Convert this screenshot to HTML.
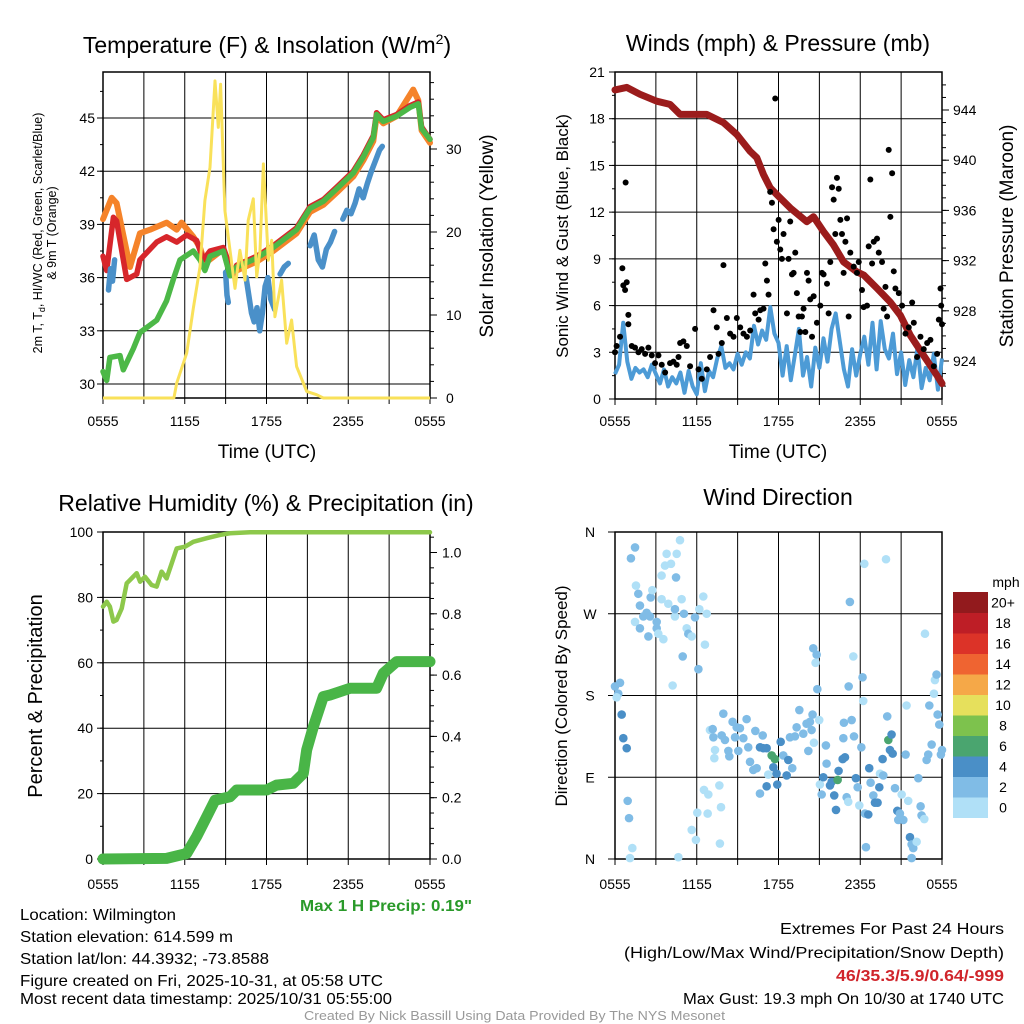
<!DOCTYPE html>
<html><head><meta charset="utf-8">
<style>
html,body{margin:0;padding:0;background:#fff;}
svg{display:block;font-family:"Liberation Sans Narrow","Liberation Sans",sans-serif;}
</style></head>
<body>
<svg id="chart" width="1024" height="1024" viewBox="0 0 1024 1024" xmlns="http://www.w3.org/2000/svg">
<rect width="1024" height="1024" fill="#fff"/>
<g id="layer"></g>
</svg>
<script>
// ---------- Panel 1 data (temperature / insolation) ----------
const greenT=[0,0.27,0.51,1.25,1.49,2.23,2.71,3.94,4.67,5.16,5.65,6.63,7.12,7.48,7.85,8.83,9.32,9.81,11.28,12.5,14.21,15.19,16.17,17.15,18.37,19.1,19.84,20.08,20.57,21.55,22.53,23.14,23.38,24];
const greenV=[30.7,30.2,31.5,31.6,30.8,32.0,32.9,33.6,34.7,35.9,37.0,37.5,37.0,36.4,37.2,37.5,36.1,36.6,37.1,37.7,38.7,39.9,40.3,41.0,41.9,42.8,43.9,45.2,44.8,45.1,45.6,45.8,44.4,43.8];
const redT=[0,0.27,0.76,1.0,1.74,2.47,2.71,3.94,4.67,5.41,6.14,6.87,7.36,7.85,8.83,9.56,9.81,11.28,12.5,14.21,15.19,16.17,17.15,18.37,19.1,19.84,20.08,20.57,21.55,22.53,23.14,23.38,24];
const redV=[37.2,36.4,39.4,39.2,35.9,36.2,37.0,38.0,38.3,38.0,38.4,38.1,37.0,37.5,37.7,36.1,36.7,37.2,37.8,38.8,40.0,40.4,41.1,42.0,42.9,44.0,45.3,44.9,45.2,45.7,45.9,44.5,43.8];
const orangeT=[0,0.64,1.0,1.98,2.71,3.45,4.67,5.41,5.77,6.63,7.12,7.48,8.83,9.32,9.81,11.28,12.5,14.21,15.19,16.17,17.15,18.37,19.1,19.84,20.08,20.57,21.55,22.77,23.14,23.38,24];
const orangeV=[39.3,40.5,40.2,36.6,38.5,38.7,39.1,38.7,39.1,38.3,37.7,36.8,37.6,36.2,36.4,36.9,37.5,38.5,39.7,40.1,40.8,41.7,42.6,43.7,45.1,44.7,45.1,46.6,46.0,44.3,43.6];
const blueT=[0.4,0.55,0.7,0.85,null,9.0,9.1,9.2,null,10.5,10.7,10.9,11.1,11.3,11.5,11.7,11.9,12.1,12.3,12.6,null,13.0,13.3,13.6,null,15.2,15.5,15.8,16.1,16.4,16.7,17.0,null,17.6,17.9,18.2,18.5,18.8,19.1,19.4,19.7,20.0,20.3,20.5];
const blueV=[35.3,36.5,35.8,37.0,null,36.3,35.0,34.6,null,36.0,35.0,34.0,33.5,34.3,33.0,34.0,35.5,36.0,34.8,34.2,null,36.2,36.6,36.8,null,37.8,38.4,37.0,36.6,37.6,38.0,38.6,null,39.3,39.8,39.6,40.2,41.0,40.5,41.3,42.0,42.6,43.2,43.4];
const solarT=[0,5.2,5.41,6.14,6.63,7.12,7.48,7.85,8.22,8.46,8.63,8.95,9.32,9.69,10.05,10.42,10.66,11.03,11.28,11.52,11.77,12.13,12.38,12.62,13.11,13.48,13.84,14.21,14.95,15.68,16.17,24];
const solarV=[0,0,1.8,5.4,10.8,15.8,23.8,27.8,38.2,32.6,37.8,22.6,17.8,13.2,17.8,14.2,21.4,24,14.6,17.8,28.2,16.6,19,9.8,14.2,6.6,9.4,3.8,0.8,0.4,0,0];
const p1LeftTicks=[30,33,36,39,42,45];
const p1RightTicks=[0,10,20,30];
const timeLabels=["0555","1155","1755","2355","0555"];

// ---------- Panel 2 data (wind / pressure) ----------
const windT=[0,0.3,0.6,0.9,1.2,1.5,1.8,2.1,2.4,2.7,3.0,3.3,3.6,3.9,4.2,4.5,4.8,5.1,5.4,5.7,6.0,6.3,6.6,6.9,7.2,7.5,7.8,8.1,8.4,8.7,9.0,9.3,9.6,9.9,10.2,10.5,10.8,11.1,11.4,11.7,12.0,12.3,12.6,12.9,13.2,13.5,13.8,14.1,14.4,14.7,15.0,15.3,15.6,15.9,16.2,16.5,16.8,17.1,17.4,17.7,18.0,18.3,18.6,18.9,19.2,19.5,19.8,20.1,20.4,20.7,21.0,21.3,21.6,21.9,22.2,22.5,22.8,23.1,23.4,23.7,24.0];
const windV=[1.6,2.2,4.9,2.4,1.3,2.0,1.7,1.9,1.4,2.2,1.6,1.0,1.9,0.8,1.4,1.0,1.7,0.4,1.8,0.8,0.3,2.3,0.5,1.8,1.4,2.6,3.4,2.0,2.3,1.9,2.9,2.2,3.0,2.6,4.7,3.5,4.4,3.8,5.9,4.2,3.6,1.5,3.4,1.2,2.8,4.5,1.5,2.7,0.8,3.3,2.0,3.9,2.4,4.5,5.5,3.7,1.9,0.8,3.2,1.5,2.9,4.0,2.2,4.9,1.9,5.0,3.2,2.6,4.2,1.6,3.0,0.9,2.5,1.4,3.3,0.7,2.0,1.2,2.9,0.6,2.6];
const gustT=[0,0.12,0.37,0.54,0.61,0.74,0.86,0.78,0.98,0.98,1.23,1.47,1.72,1.96,2.21,2.45,2.7,2.94,3.19,3.43,3.68,4.04,4.29,4.53,4.66,4.78,5.02,5.27,5.51,5.88,6.13,6.37,6.74,6.98,7.23,7.47,7.6,7.84,7.96,8.21,8.45,8.7,8.94,9.19,9.43,9.68,9.92,10.17,10.29,10.54,10.66,10.9,11.03,11.15,11.27,11.39,11.52,11.64,11.76,11.88,12.01,12.13,12.25,12.37,12.62,12.74,12.86,12.99,13.11,13.23,13.35,13.48,13.6,13.72,13.84,13.97,14.09,14.21,14.33,14.46,14.58,14.82,15.07,15.19,15.31,15.56,15.68,15.8,15.93,16.05,16.17,16.29,16.42,16.54,16.66,16.78,16.91,17.03,17.15,17.27,17.52,17.76,17.89,18.13,18.25,18.5,18.62,18.74,18.87,18.99,19.23,19.36,19.6,19.72,19.85,19.97,20.09,20.21,20.34,20.46,20.58,20.83,21.07,21.32,21.56,21.81,21.93,22.17,22.42,22.66,22.91,23.15,23.4,23.64,23.77,23.89,23.94,24.0];
const gustV=[3.0,3.4,4.0,8.4,7.3,7.0,7.5,13.9,5.4,4.8,3.4,3.3,3.0,3.2,2.9,3.3,2.8,2.3,2.8,2.2,1.7,2.3,2.4,2.2,2.7,3.6,3.7,3.4,2.1,4.5,1.9,1.3,1.9,2.7,5.7,4.6,2.9,3.6,8.6,5.2,4.2,4.0,5.2,4.6,4.2,4.0,4.4,6.7,5.5,5.1,5.7,5.8,8.7,7.6,6.7,13.3,12.6,10.9,19.3,10.1,11.5,9.6,9.0,10.6,5.5,9.0,11.4,8.0,8.1,9.4,6.8,5.3,4.3,5.3,5.8,4.3,8.1,7.6,6.4,4.0,6.6,4.9,6.0,8.1,8.0,7.4,5.5,8.8,13.6,12.8,10.6,14.2,13.5,11.5,10.6,8.1,10.1,11.6,5.3,9.4,8.5,8.1,8.8,7.0,5.9,6.0,9.8,14.1,8.7,10.1,10.3,9.4,8.8,5.8,7.2,5.3,16.0,11.7,14.5,8.2,7.1,6.8,6.0,4.2,4.6,6.2,4.9,2.7,4.0,3.2,3.6,3.8,2.1,2.9,5.1,7.1,6.0,4.8];
const presT=[0,0.86,1.84,3.06,4.04,4.78,5.51,6.73,7.96,8.94,9.92,10.41,10.9,11.39,11.88,12.86,14.08,14.57,15.31,16.04,16.78,17.76,18.25,19.22,20.2,20.94,21.67,22.65,23.63,24];
const presV=[945.6,945.8,945.25,944.7,944.45,943.65,943.65,943.65,943.0,942.05,940.7,940.2,938.85,937.8,937.25,936.2,935.1,935.5,934.3,933.25,931.9,931.1,930.85,929.8,928.7,927.65,926.05,924.45,922.85,922.2];
const p2LeftTicks=[0,3,6,9,12,15,18,21];
const p2RightTicks=[924,928,932,936,940,944];

// ---------- Panel 3 data (RH / precip) ----------
const rhT=[0,0.27,0.51,0.76,1.0,1.37,1.74,2.1,2.47,2.72,3.08,3.57,3.94,4.3,4.67,5.04,5.41,6.02,6.63,7.61,8.59,9.32,10.79,23.5,24];
const rhV=[77.2,78.7,77.2,72.6,73.1,76.6,84.3,85.8,87.4,84.8,86.3,83.8,83.3,87.9,85.8,90.4,95.0,95.5,97.0,98.1,99.1,99.6,99.9,99.9,99.9];
const precipT=[0,4.67,6.14,6.87,7.61,8.22,9.32,9.81,12.01,12.74,13.97,14.7,14.95,15.44,16.17,16.66,18.13,20.08,20.57,21.55,24];
const precipV=[0,0.002,0.018,0.073,0.138,0.192,0.203,0.225,0.225,0.241,0.247,0.279,0.356,0.432,0.53,0.535,0.557,0.557,0.606,0.644,0.644];
const p3LeftTicks=[0,20,40,60,80,100];
const p3RightTicks=[0,0.2,0.4,0.6,0.8,1.0];

// ---------- Panel 4 data (wind direction) ----------
const dirT=[0,0.24,0.37,0.12,0.49,0.61,0.86,0.93,1.03,1.27,1.10,1.17,1.47,1.54,1.71,1.83,2.08,2.32,2.57,1.47,1.83,2.45,2.62,2.74,3.06,3.06,3.18,3.42,3.55,3.42,3.67,3.79,4.11,3.91,4.40,4.48,4.40,4.53,4.77,4.89,4.97,5.06,5.26,5.38,5.63,5.87,6.12,6.19,6.48,6.73,6.60,4.23,4.65,5.63,5.94,6.04,6.53,6.85,6.80,7.66,7.78,7.70,6.97,7.17,7.22,7.34,7.29,7.95,7.83,8.07,8.32,8.39,8.63,8.81,8.93,9.17,9.42,9.05,9.66,9.78,9.91,10.15,10.30,10.40,10.64,10.84,10.88,11.13,11.25,10.64,11.13,11.50,11.74,11.62,11.86,11.91,12.16,12.35,12.60,12.72,13.01,12.84,13.21,13.33,13.53,13.82,14.06,14.19,14.31,14.43,14.50,14.60,14.99,14.55,14.80,14.72,14.85,15.04,15.17,15.29,15.48,15.53,15.78,15.90,16.09,16.22,16.34,16.41,16.71,16.88,16.80,16.76,17.00,17.12,17.37,17.54,17.24,17.49,17.15,17.68,17.81,17.93,18.08,18.17,18.30,18.22,18.35,18.42,18.59,18.66,18.76,18.96,19.08,19.27,19.40,19.45,19.64,19.69,19.89,19.98,20.06,20.18,20.30,20.38,20.55,20.72,20.79,20.91,21.04,21.16,21.33,21.40,21.52,21.65,21.77,21.89,21.77,22.14,22.26,22.43,22.50,22.70,22.75,22.87,22.99,23.07,23.24,23.41,23.48,23.60,23.68,23.80,23.92,24.0];
const dirV=[190,182,194,178,159,133,122,64,45,12,1,331,343,301,292,279,267,271,267,261,254,245,288,296,254,261,248,286,242,312,323,336,325,281,267,310,275,336,351,286,223,270,254,248,245,266,209,275,289,270,236,191,2,32,21,51,76,71,50,81,57,17,142,143,134,120,111,160,136,131,119,113,151,134,145,144,133,119,154,123,107,98,141,100,123,136,122,122,93,72,80,114,110,101,94,82,129,114,92,109,100,134,135,145,164,138,149,119,151,142,159,128,153,232,225,216,187,82,71,90,125,105,81,85,70,54,87,97,110,112,150,133,68,63,153,135,283,223,190,89,79,59,123,200,325,174,50,13,49,100,84,70,62,62,79,94,110,92,330,157,131,120,137,116,78,53,43,50,71,43,115,169,64,24,16,12,1,19,89,58,48,44,248,109,115,169,126,182,197,203,159,148,115,120];
const dirS=[3,3,3,1,5,5,5,3,3,1,1,3,3,1,3,3,3,3,3,1,3,3,3,1,3,3,1,1,1,1,1,1,1,1,1,3,3,1,1,1,3,3,1,3,1,3,3,1,1,1,1,1,1,1,1,1,1,1,1,1,1,1,1,3,3,1,1,3,3,3,3,3,3,3,3,3,3,3,3,3,3,3,3,3,5,3,5,5,1,3,5,7,7,5,5,5,5,3,5,5,3,3,3,3,3,3,3,3,3,3,3,1,1,3,3,1,3,1,3,5,3,3,5,5,5,5,7,5,5,5,3,3,3,1,3,3,3,1,3,5,3,1,3,3,1,1,3,3,5,5,3,3,5,5,5,1,5,3,1,3,7,5,5,5,3,5,3,3,1,3,3,1,1,5,3,3,3,1,3,3,3,1,1,3,3,3,3,1,1,3,3,3,3,3,3];
const dirTicks=["N","E","S","W","N"];
const speedBins=["0","2","4","6","8","10","12","14","16","18","20+"];
const binColors=["#b0e0f7","#80bce6","#4a8fc7","#4aa56f","#7dc24d","#e6e05c","#f5a848","#ef6431","#dc3328","#be1e26","#921a1d"];

// ---------- drawing ----------
const NS="http://www.w3.org/2000/svg";
const root=document.getElementById('layer');
function el(tag,attrs,parent,text){const e=document.createElementNS(NS,tag);for(const k in attrs)e.setAttribute(k,attrs[k]);if(text!==undefined)e.textContent=text;(parent||root).appendChild(e);return e;}
function grp(name){const g=el('g',{});return g;}
function linear(d0,d1,r0,r1){return v=>r0+(v-d0)/(d1-d0)*(r1-r0);}
function pathFrom(ts,vs,xs,ys){let d='',pen=false;for(let i=0;i<ts.length;i++){if(ts[i]===null||vs[i]===null||ts[i]===undefined||vs[i]===undefined){pen=false;continue;}d+=(pen?'L':'M')+xs(ts[i]).toFixed(1)+','+ys(vs[i]).toFixed(1);pen=true;}return d;}

function frame(name,x0,x1,y0,y1,hLines,vCount){
  const g=grp(name+'-grid');
  for(const y of hLines){el('line',{x1:x0,x2:x1,y1:y,y2:y,stroke:'#000','stroke-width':1},g);}
  for(let k=0;k<=vCount;k++){const x=x0+(x1-x0)*k/vCount;el('line',{x1:x,x2:x,y1:y0,y2:y1,stroke:'#000','stroke-width':1},g);}
  el('rect',{x:x0,y:y0,width:x1-x0,height:y1-y0,fill:'none',stroke:'#000','stroke-width':1.5},g);
  for(let k=0;k<=8;k++){const x=x0+(x1-x0)*k/8;el('line',{x1:x,x2:x,y1:y1,y2:y1+6,stroke:'#000'},g);}
  return g;
}
function xLabels(name,x0,x1,y){const g=grp(name+'-x-tick-labels');timeLabels.forEach((t,i)=>{const e=el('text',{x:x0+(x1-x0)*i/4,y:y,'font-size':14,'text-anchor':'middle'},g,t);});}
function txt(name,attrs,s){const e=el('text',attrs,root,s);return e;}

// ===== Panel 1 =====
(function(){
  const X0=103,X1=430,Y0=72,Y1=398;
  const xs=linear(0,24,X0,X1);
  const yL=linear(30,45,384,118);
  const yR=linear(0,30,398,149);
  frame('temperature-panel',X0,X1,Y0,Y1,p1LeftTicks.map(yL),8);
  const g=grp('temperature-axes');
  p1LeftTicks.forEach(v=>{el('line',{x1:X0-6,x2:X0,y1:yL(v),y2:yL(v),stroke:'#000'},g);const t=el('text',{x:X0-8,y:yL(v)+5,'font-size':14,'text-anchor':'end'},g,String(v));});
  for(let v=30;v<=47;v+=1.5){el('line',{x1:X0-3,x2:X0,y1:yL(v),y2:yL(v),stroke:'#000'},g);}
  p1RightTicks.forEach(v=>{el('line',{x1:X1,x2:X1+7,y1:yR(v),y2:yR(v),stroke:'#000'},g);const t=el('text',{x:X1+16,y:yR(v)+5,'font-size':14},g,String(v));});
  for(let v=0;v<=38;v+=2){el('line',{x1:X1,x2:X1+4,y1:yR(v),y2:yR(v),stroke:'#000'},g);}
  const s=grp('temperature-series');
  const o=el('path',{d:pathFrom(orangeT,orangeV,xs,yL),fill:'none',stroke:'#f5832a','stroke-width':6,'stroke-linejoin':'round','stroke-linecap':'round'},s);
  const r=el('path',{d:pathFrom(redT,redV,xs,yL),fill:'none',stroke:'#d7262b','stroke-width':5.5,'stroke-linejoin':'round','stroke-linecap':'round'},s);
  const b=el('path',{d:pathFrom(blueT,blueV,xs,yL),fill:'none',stroke:'#4a90c9','stroke-width':5.5,'stroke-linejoin':'round','stroke-linecap':'round'},s);
  const gr=el('path',{d:pathFrom(greenT,greenV,xs,yL),fill:'none',stroke:'#4cb847','stroke-width':5.5,'stroke-linejoin':'round','stroke-linecap':'round'},s);
  const y=el('path',{d:pathFrom(solarT,solarV,xs,yR),fill:'none',stroke:'#f9e15a','stroke-width':3,'stroke-linejoin':'round'},s);
  xLabels('temperature',X0,X1,426);
})();
txt('temperature-title',{x:267,y:53,'font-size':23,'text-anchor':'middle','font-family':'Liberation Sans, sans-serif'},'').innerHTML='Temperature (F) &amp; Insolation (W/m<tspan dy="-9" font-size="14">2</tspan><tspan dy="9">)</tspan>';
txt('temperature-x-axis-title',{x:267,y:458,'font-size':19,'text-anchor':'middle','font-family':'Liberation Sans, sans-serif'},'Time (UTC)');
txt('temperature-y-axis-title',{x:0,y:0,'font-size':12.5,'text-anchor':'middle',transform:'translate(42,233) rotate(-90)','font-family':'Liberation Sans, sans-serif'},'').innerHTML='2m T, T<tspan dy="3" font-size="9">d</tspan><tspan dy="-3">, HI/WC (Red, Green, Scarlet/Blue)</tspan>';
txt('temperature-y-axis-title-2',{x:0,y:0,'font-size':12.5,'text-anchor':'middle',transform:'translate(56,233) rotate(-90)','font-family':'Liberation Sans, sans-serif'},'& 9m T (Orange)');
txt('insolation-y-axis-title',{x:0,y:0,'font-size':19,'text-anchor':'middle',transform:'translate(493,236) rotate(-90)','font-family':'Liberation Sans, sans-serif'},'Solar Insolation (Yellow)');

// ===== Panel 2 =====
(function(){
  const X0=615,X1=942,Y0=72,Y1=399;
  const xs=linear(0,24,X0,X1);
  const yL=linear(0,21,399,72);
  const yR=linear(924,944,361,110);
  frame('wind-panel',X0,X1,Y0,Y1,p2LeftTicks.map(yL),8);
  const g=grp('wind-axes');
  p2LeftTicks.forEach(v=>{el('line',{x1:X0-6,x2:X0,y1:yL(v),y2:yL(v),stroke:'#000'},g);const t=el('text',{x:X0-18,y:yL(v)+5,'font-size':14,'text-anchor':'middle'},g,String(v));});
  for(let v=0;v<=21;v+=1.5){el('line',{x1:X0-3,x2:X0,y1:yL(v),y2:yL(v),stroke:'#000'},g);}
  p2RightTicks.forEach(v=>{el('line',{x1:X1,x2:X1+7,y1:yR(v),y2:yR(v),stroke:'#000'},g);const t=el('text',{x:X1+11,y:yR(v)+5,'font-size':14},g,String(v));});
  for(let v=922;v<=946;v+=1){el('line',{x1:X1,x2:X1+4,y1:yR(v),y2:yR(v),stroke:'#000'},g);}
  const s=grp('wind-series');
  const w=el('path',{d:pathFrom(windT,windV,xs,yL),fill:'none',stroke:'#4d9bd6','stroke-width':4,'stroke-linejoin':'round'},s);
  const p=el('path',{d:pathFrom(presT,presV,xs,yR),fill:'none',stroke:'#9b1c1c','stroke-width':7,'stroke-linejoin':'round','stroke-linecap':'round'},s);
  const gg=grp('series-gusts');
  for(let i=0;i<gustT.length;i++){if(gustV[i]===undefined)continue;const c=el('circle',{cx:xs(gustT[i]),cy:yL(gustV[i]),r:3,fill:'#000'},gg);}
  xLabels('wind',X0,X1,426);
})();
txt('wind-title',{x:778,y:51,'font-size':23,'text-anchor':'middle','font-family':'Liberation Sans, sans-serif'},'Winds (mph) & Pressure (mb)');
txt('wind-x-axis-title',{x:778,y:458,'font-size':19,'text-anchor':'middle','font-family':'Liberation Sans, sans-serif'},'Time (UTC)');
txt('wind-y-axis-title',{x:0,y:0,'font-size':17,'text-anchor':'middle',transform:'translate(568,236) rotate(-90)','font-family':'Liberation Sans, sans-serif'},'Sonic Wind & Gust (Blue, Black)');
txt('pressure-y-axis-title',{x:0,y:0,'font-size':19,'text-anchor':'middle',transform:'translate(1013,236) rotate(-90)','font-family':'Liberation Sans, sans-serif'},'Station Pressure (Maroon)');

// ===== Panel 3 =====
(function(){
  const X0=103,X1=430,Y0=532,Y1=859;
  const xs=linear(0,24,X0,X1);
  const yL=linear(0,100,859,532);
  const yR=linear(0,1,859,552.5);
  frame('humidity-panel',X0,X1,Y0,Y1,p3LeftTicks.map(yL),8);
  const g=grp('humidity-axes');
  p3LeftTicks.forEach(v=>{el('line',{x1:X0-6,x2:X0,y1:yL(v),y2:yL(v),stroke:'#000'},g);const t=el('text',{x:X0-10,y:yL(v)+5,'font-size':14,'text-anchor':'end'},g,String(v));});
  for(let v=0;v<=100;v+=10){el('line',{x1:X0-3,x2:X0,y1:yL(v),y2:yL(v),stroke:'#000'},g);}
  p3RightTicks.forEach(v=>{el('line',{x1:X1,x2:X1+7,y1:yR(v),y2:yR(v),stroke:'#000'},g);const t=el('text',{x:X1+12,y:yR(v)+5,'font-size':14},g,v.toFixed(1));});
  for(let v=0;v<=1.06;v+=0.05){el('line',{x1:X1,x2:X1+4,y1:yR(v),y2:yR(v),stroke:'#000'},g);}
  const s=grp('humidity-series');
  const pr=el('path',{d:pathFrom(precipT,precipV,xs,yR),fill:'none',stroke:'#49b547','stroke-width':11,'stroke-linejoin':'round','stroke-linecap':'round'},s);
  const rh=el('path',{d:pathFrom(rhT,rhV,xs,yL),fill:'none',stroke:'#8dc84b','stroke-width':4.5,'stroke-linejoin':'round','stroke-linecap':'round'},s);
  xLabels('humidity',X0,X1,889);
})();
txt('humidity-title',{x:266,y:511,'font-size':23,'text-anchor':'middle','font-family':'Liberation Sans, sans-serif'},'Relative Humidity (%) & Precipitation (in)');
txt('humidity-y-axis-title',{x:0,y:0,'font-size':20,'text-anchor':'middle',transform:'translate(42,696) rotate(-90)','font-family':'Liberation Sans, sans-serif'},'Percent & Precipitation');

// ===== Panel 4 =====
(function(){
  const X0=615,X1=942,Y0=532,Y1=859;
  const xs=linear(0,24,X0,X1);
  const ys=linear(0,360,859,532);
  frame('direction-panel',X0,X1,Y0,Y1,[0,90,180,270,360].map(ys),8);
  const g=grp('direction-axes');
  dirTicks.forEach((d,i)=>{const v=i*90;el('line',{x1:X0-7,x2:X0,y1:ys(v),y2:ys(v),stroke:'#000'},g);const t=el('text',{x:X0-25,y:ys(v)+5,'font-size':14,'text-anchor':'middle'},g,d);});
  const s=grp('series-wind-direction');
  function binOf(sp){if(sp===undefined||sp===null||isNaN(sp))sp=3;return Math.max(0,Math.min(10,Math.floor(sp/2)));}
  for(let i=0;i<dirT.length;i++){if(dirV[i]===undefined)continue;const c=el('circle',{cx:xs(dirT[i]),cy:ys(dirV[i]),r:4.3,fill:binColors[binOf(dirS[i])]},s);}
  xLabels('direction',X0,X1,889);
  const cb=grp('speed-colorbar');
  const cy0=592,ch=20.5;
  speedBins.forEach((lab,i)=>{const y=cy0+(10-i)*ch;const r=el('rect',{x:953,y:y,width:35,height:ch+0.5,fill:binColors[i]},cb);const t=el('text',{x:1003,y:y+ch/2+5,'font-size':14,'text-anchor':'middle'},cb,lab);});
  const u=el('text',{x:1006,y:587,'font-size':14,'text-anchor':'middle'},cb,'mph');
})();
txt('direction-title',{x:778,y:505,'font-size':23,'text-anchor':'middle','font-family':'Liberation Sans, sans-serif'},'Wind Direction');
txt('direction-y-axis-title',{x:0,y:0,'font-size':17,'text-anchor':'middle',transform:'translate(567,696) rotate(-90)','font-family':'Liberation Sans, sans-serif'},'Direction (Colored By Speed)');

// ===== Footer text =====
txt('max-hourly-precip',{x:300,y:911,'font-size':16,'font-weight':'bold',fill:'#2a9a2a',textLength:172,lengthAdjust:'spacingAndGlyphs'},'Max 1 H Precip: 0.19"');
const info=[["location-label","Location: Wilmington",156,920],["station-elevation","Station elevation: 614.599 m",213,942],["station-latlon","Station lat/lon: 44.3932; -73.8588",249,964],["figure-created","Figure created on Fri, 2025-10-31, at 05:58 UTC",363,986],["data-timestamp","Most recent data timestamp: 2025/10/31 05:55:00",372,1004]];
info.forEach(a=>txt(a[0],{x:20,y:a[3],'font-size':16,textLength:a[2],lengthAdjust:'spacingAndGlyphs'},a[1]));
txt('extremes-title',{x:780,y:934,'font-size':16,textLength:224,lengthAdjust:'spacingAndGlyphs'},'Extremes For Past 24 Hours');
txt('extremes-legend',{x:624,y:958,'font-size':16,textLength:380,lengthAdjust:'spacingAndGlyphs'},'(High/Low/Max Wind/Precipitation/Snow Depth)');
txt('extremes-values',{x:836,y:981,'font-size':16,'font-weight':'bold',fill:'#d0252b',textLength:168,lengthAdjust:'spacingAndGlyphs'},'46/35.3/5.9/0.64/-999');
txt('max-gust',{x:683,y:1004,'font-size':16,textLength:321,lengthAdjust:'spacingAndGlyphs'},'Max Gust: 19.3 mph On 10/30 at 1740 UTC');
txt('credit-footer',{x:304,y:1020,'font-size':13,fill:'#999',textLength:421,lengthAdjust:'spacingAndGlyphs'},'Created By Nick Bassill Using Data Provided By The NYS Mesonet');
</script>
</body></html>
